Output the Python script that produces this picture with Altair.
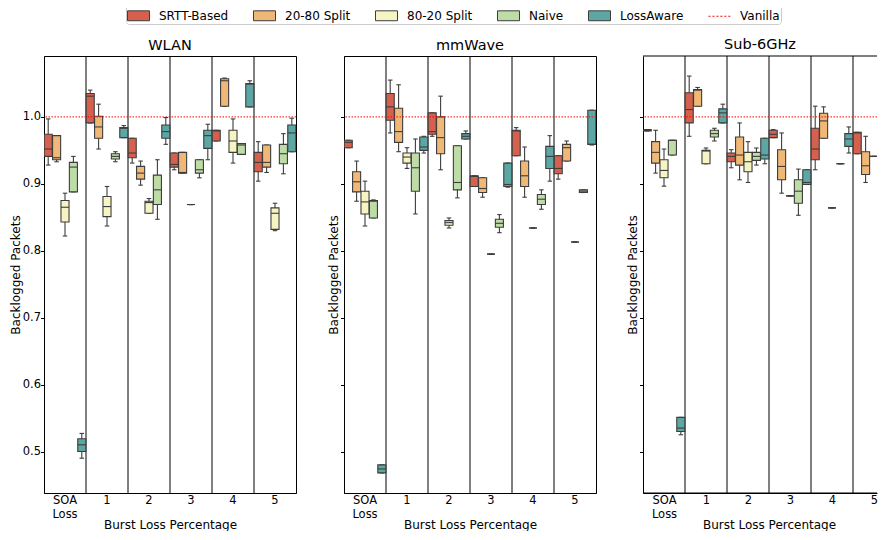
import altair as alt
import pandas as pd
import json

groups = ["SOA Loss", "1", "2", "3", "4", "5"]
series = ["SRTT-Based", "20-80 Split", "80-20 Split", "Naive", "LossAware"]
legend_entries = series + ["Vanilla"]
panels = ["WLAN", "mmWave", "Sub-6GHz"]
box_colors = ["#d6604e", "#efb877", "#f6f4c2", "#bedca6", "#5ca6a3"]
vanilla_color = "#ff0000"
vanilla_value = 1.0
y_ticks = [0.5, 0.6, 0.7, 0.8, 0.9, 1.0]

# (lower whisker, q1, median, q3, upper whisker) per group
wlan_srtt = [(0.928, 0.941, 0.952, 0.974, 0.997), (0.991, 0.991, 1.031, 1.035, 1.040),
             (0.931, 0.939, 0.946, 0.968, 0.968), (0.921, 0.925, 0.929, 0.946, 0.946),
             (0.964, 0.964, 0.979, 0.980, 0.980), (0.904, 0.918, 0.932, 0.947, 0.963)]
wlan_2080 = [(0.933, 0.936, 0.939, 0.972, 0.972), (0.952, 0.968, 0.985, 1.001, 1.019),
             (0.898, 0.907, 0.916, 0.926, 0.934), (0.916, 0.916, 0.917, 0.947, 0.947),
             (1.016, 1.016, 1.054, 1.057, 1.058), (0.917, 0.925, 0.932, 0.958, 0.958)]
wlan_8020 = [(0.822, 0.843, 0.865, 0.875, 0.886), (0.837, 0.851, 0.866, 0.881, 0.896),
             (0.856, 0.856, 0.872, 0.874, 0.878), (0.869, 0.869, 0.869, 0.869, 0.869),
             (0.931, 0.947, 0.964, 0.980, 0.997), (0.830, 0.832, 0.856, 0.864, 0.871)]
wlan_naive = [(0.888, 0.888, 0.925, 0.932, 0.941), (0.933, 0.937, 0.941, 0.945, 0.948),
              (0.847, 0.869, 0.891, 0.913, 0.936), (0.909, 0.916, 0.921, 0.936, 0.936),
              (0.944, 0.944, 0.958, 0.960, 0.960), (0.915, 0.930, 0.945, 0.959, 0.975)]
wlan_loss = [(0.490, 0.500, 0.510, 0.519, 0.527), (0.969, 0.969, 0.983, 0.984, 0.987),
             (0.959, 0.968, 0.978, 0.988, 0.999), (0.936, 0.953, 0.972, 0.980, 0.989),
             (1.015, 1.015, 1.049, 1.050, 1.054), (0.948, 0.948, 0.976, 0.988, 0.998)]

mmw_srtt = [(0.954, 0.954, 0.962, 0.965, 0.965), (0.976, 0.995, 1.015, 1.035, 1.055),
            (0.971, 0.974, 0.978, 1.006, 1.006), (0.896, 0.896, 0.911, 0.912, 0.912),
            (0.942, 0.942, 0.979, 0.980, 0.984), (0.907, 0.915, 0.923, 0.942, 0.942)]
mmw_2080 = [(0.874, 0.888, 0.903, 0.918, 0.934), (0.948, 0.962, 0.978, 1.013, 1.048),
            (0.921, 0.945, 0.969, 1.000, 1.031), (0.880, 0.887, 0.893, 0.909, 0.909),
            (0.880, 0.896, 0.912, 0.934, 0.955), (0.934, 0.934, 0.954, 0.959, 0.964)]
mmw_8020 = [(0.837, 0.855, 0.873, 0.889, 0.904), (0.923, 0.931, 0.940, 0.946, 0.954),
            (0.834, 0.838, 0.842, 0.845, 0.849), (0.795, 0.795, 0.795, 0.795, 0.795),
            (0.834, 0.834, 0.834, 0.834, 0.834), (0.813, 0.813, 0.813, 0.813, 0.813)]
mmw_naive = [(0.849, 0.849, 0.874, 0.875, 0.876), (0.855, 0.889, 0.924, 0.946, 0.967),
             (0.879, 0.891, 0.902, 0.957, 0.957), (0.827, 0.835, 0.841, 0.847, 0.854),
             (0.862, 0.869, 0.877, 0.884, 0.891), (0.887, 0.887, 0.889, 0.891, 0.891)]
mmw_loss = [(0.468, 0.468, 0.474, 0.480, 0.480), (0.946, 0.950, 0.955, 0.970, 0.971),
            (0.967, 0.967, 0.971, 0.975, 0.979), (0.895, 0.896, 0.899, 0.931, 0.931),
            (0.904, 0.923, 0.941, 0.956, 0.972), (0.958, 0.959, 0.959, 1.010, 1.010)]

sub6_srtt = [(0.979, 0.979, 0.980, 0.981, 0.981), (0.971, 0.991, 1.011, 1.036, 1.061),
             (0.924, 0.933, 0.941, 0.946, 0.951), (0.969, 0.969, 0.974, 0.980, 0.981),
             (0.921, 0.936, 0.952, 0.983, 1.016), (0.945, 0.945, 0.976, 0.977, 0.977)]
sub6_2080 = [(0.916, 0.931, 0.947, 0.963, 0.980), (1.016, 1.016, 1.040, 1.041, 1.044),
             (0.906, 0.928, 0.943, 0.970, 0.991), (0.886, 0.906, 0.926, 0.951, 0.976),
             (0.968, 0.968, 0.994, 1.0055, 1.015), (0.902, 0.914, 0.927, 0.948, 0.971)]
sub6_8020 = [(0.8965, 0.909, 0.920, 0.936, 0.952), (0.930, 0.930, 0.949, 0.950, 0.9535),
             (0.902, 0.918, 0.933, 0.947, 0.963), (0.882, 0.882, 0.882, 0.882, 0.882),
             (0.864, 0.864, 0.864, 0.864, 0.864), (0.941, 0.941, 0.941, 0.941, 0.941)]
sub6_naive = [(0.943, 0.943, 0.965, 0.965, 0.965), (0.964, 0.970, 0.975, 0.980, 0.983),
              (0.928, 0.935, 0.941, 0.947, 0.9535), (0.853, 0.871, 0.889, 0.906, 0.922),
              (0.930, 0.930, 0.930, 0.930, 0.930), (0.897, 0.898, 0.899, 0.900, 0.901)]
sub6_loss = [(0.525, 0.530, 0.535, 0.551, 0.551), (0.991, 0.991, 1.006, 1.012, 1.019),
             (0.930, 0.937, 0.943, 0.968, 0.968), (0.899, 0.899, 0.902, 0.921, 0.921),
             (0.946, 0.956, 0.967, 0.975, 0.985), (0.927, 0.930, 0.935, 0.945, 0.948)]

stats = {
    "WLAN": [wlan_srtt, wlan_2080, wlan_8020, wlan_naive, wlan_loss],
    "mmWave": [mmw_srtt, mmw_2080, mmw_8020, mmw_naive, mmw_loss],
    "Sub-6GHz": [sub6_srtt, sub6_2080, sub6_8020, sub6_naive, sub6_loss],
}

rows = []
for panel in panels:
    for s, boxes in zip(series, stats[panel]):
        for g, (lo, q1, med, q3, hi) in zip(groups, boxes):
            rows.append(dict(panel=panel, group=g, series=s, lo=lo, q1=q1,
                             med=med, q3=q3, hi=hi))
df = pd.DataFrame(rows)

FONT = "DejaVu Sans"
EDGE = "#3d3d3d"
Y_DOMAIN = [0.438, 1.091]
GROUP_W = 42
PANEL_W = GROUP_W * len(groups)
PANEL_H = 437
LAST_W = 234                     # last panel is cut off by the page edge
LAST_VISIBLE = LAST_W / GROUP_W  # groups visible in the last panel

rect_path = "M-1,-0.45H1V0.45H-1Z"
dash_path = "M-1,0H-0.82M-0.64,0H-0.46M-0.28,0H-0.1M0.08,0H0.26M0.44,0H0.62M0.8,0H0.98"

label_lists = [g.split(" ") for g in groups]

X_AXIS_COMMON = dict(title="Burst Loss Percentage", labelAngle=0, ticks=False,
                     labelAlign="center", labelBaseline="top", labelLineHeight=14,
                     labelPadding=1, titlePadding=0, grid=False)


def panel_chart(name, idx):
    first = idx == 0
    last = idx == len(panels) - 1
    d = df[df.panel == name]
    if last:
        x_axis = None
    else:
        x_axis = alt.Axis(labelExpr="split(datum.label, ' ')", **X_AXIS_COMMON)
    xscale = alt.Scale(domain=groups, paddingInner=0, paddingOuter=0, range=[0, PANEL_W])
    xenc = alt.X("group:N", sort=groups, scale=xscale, axis=x_axis)
    xoff = alt.XOffset("series:N", sort=series,
                       scale=alt.Scale(domain=series, paddingInner=0.04, paddingOuter=0.02))
    yscale = alt.Scale(domain=Y_DOMAIN, nice=False, zero=False)
    yaxis = alt.Axis(title="Backlogged Packets", values=y_ticks, format=".1f",
                     labels=first, tickSize=3.5, grid=False, labelPadding=0,
                     titlePadding=0)

    def Y(field):
        return alt.Y(field, scale=yscale, axis=yaxis)

    base = alt.Chart(d)
    seps = alt.Chart(pd.DataFrame({"group": groups[1:]})).mark_rule(
        color="black", strokeWidth=1, clip=True).encode(
        x=alt.X("group:N", sort=groups, bandPosition=0, scale=xscale, axis=x_axis))
    whisk = base.mark_rule(color=EDGE, strokeWidth=1.1, clip=True).encode(
        x=xenc, xOffset=xoff, y=Y("lo:Q"), y2="hi:Q")
    cap_lo = base.mark_tick(color=EDGE, size=4.5, thickness=1.1, opacity=1, clip=True).encode(
        x=xenc, xOffset=xoff, y=Y("lo:Q"))
    cap_hi = base.mark_tick(color=EDGE, size=4.5, thickness=1.1, opacity=1, clip=True).encode(
        x=xenc, xOffset=xoff, y=Y("hi:Q"))
    box = base.mark_bar(stroke=EDGE, strokeWidth=1.1, clip=True).encode(
        x=xenc, xOffset=xoff, y=Y("q1:Q"), y2="q3:Q",
        fill=alt.Fill("series:N", scale=alt.Scale(domain=series, range=box_colors),
                      legend=None))
    med = base.mark_tick(color=EDGE, size=8, thickness=1.1, opacity=1, clip=True).encode(
        x=xenc, xOffset=xoff, y=Y("med:Q"))
    vanilla = alt.Chart(pd.DataFrame({"v": [vanilla_value]})).mark_rule(
        color=vanilla_color, strokeDash=[1.5, 1.5], strokeWidth=1).encode(y=Y("v:Q"))

    layers = [seps, whisk, cap_lo, cap_hi, box, med, vanilla]
    if first:
        leg = alt.Legend(title=None, orient="none", legendX=82, legendY=-53, offset=0,
                         direction="horizontal", symbolSize=484, symbolStrokeWidth=1,
                         labelFont=FONT, labelFontSize=12, labelColor="black",
                         columnPadding=22, labelOffset=9, padding=1,
                         strokeColor="#cccccc", cornerRadius=3, fillColor="white")
        legend_df = pd.DataFrame({"series": legend_entries,
                                  "v": [2.0] * len(legend_entries)})
        pts = alt.Chart(legend_df).mark_point(filled=True, clip=True, opacity=1, size=10).encode(
            y=Y("v:Q"),
            color=alt.Color("series:N", scale=alt.Scale(domain=legend_entries,
                                                        range=box_colors + [vanilla_color]),
                            legend=leg),
            shape=alt.Shape("series:N", scale=alt.Scale(domain=legend_entries,
                                                        range=[rect_path] * 5 + [dash_path]),
                            legend=leg),
            stroke=alt.Stroke("series:N", scale=alt.Scale(domain=legend_entries,
                                                          range=[EDGE] * 5 + [vanilla_color]),
                              legend=leg),
        )
        layers.append(pts)

    if not last:
        return alt.layer(*layers).properties(title=name, width=PANEL_W, height=PANEL_H)

    # last panel: an independent linear axis that only spans the visible part
    inner = alt.layer(*layers)
    frame_df = pd.DataFrame({"a": [0.0, 0.0], "b": [LAST_VISIBLE, LAST_VISIBLE],
                             "v": Y_DOMAIN})
    label_expr = json.dumps(label_lists).replace('"', "'") + "[floor(datum.value)]"
    frame = alt.Chart(frame_df).mark_rule(color="black", strokeWidth=1).encode(
        x=alt.X("a:Q", scale=alt.Scale(domain=[0, LAST_VISIBLE], nice=False, zero=False),
                axis=alt.Axis(values=[i + 0.5 for i in range(len(groups))],
                              labelExpr=label_expr, labelFlush=False, labelOverlap=False,
                              orient="bottom", domain=True, titleX=GROUP_W * 3,
                              **X_AXIS_COMMON)),
        x2="b:Q",
        y=Y("v:Q"))
    return alt.layer(inner, frame).resolve_scale(x="independent").properties(
        title=name, width=LAST_W, height=PANEL_H, view=alt.ViewBackground(stroke=None))


chart = alt.hconcat(*[panel_chart(p, i) for i, p in enumerate(panels)],
                    spacing=29).properties(
    padding={"left": 0, "top": -6, "right": 0, "bottom": 0}
).configure_axis(
    labelFont=FONT, titleFont=FONT, labelFontSize=11.5, titleFontSize=12,
    labelColor="black", titleColor="black", domainColor="black", tickColor="black",
    titleFontWeight="normal"
).configure_view(
    stroke="black", strokeWidth=1
).configure_title(
    font=FONT, fontSize=14.5, fontWeight="normal", offset=3, color="black"
)

chart.save("out.html", embed_options={"renderer": "svg", "actions": False})
